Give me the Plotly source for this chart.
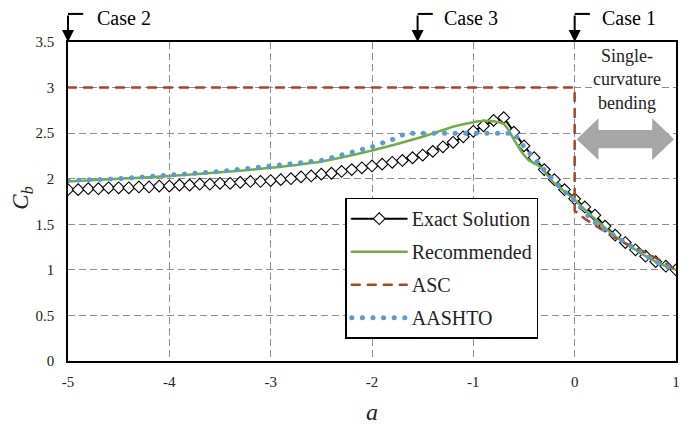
import plotly.graph_objects as go

# ---- data -------------------------------------------------------------
exact_x = [-5.0, -4.9, -4.8, -4.7, -4.6, -4.5, -4.4, -4.3, -4.2, -4.1,
           -4.0, -3.9, -3.8, -3.7, -3.6, -3.5, -3.4, -3.3, -3.2, -3.1,
           -3.0, -2.9, -2.8, -2.7, -2.6, -2.5, -2.4, -2.3, -2.2, -2.1,
           -2.0, -1.9, -1.8, -1.7, -1.6, -1.5, -1.4, -1.3, -1.2, -1.1,
           -1.0, -0.9, -0.8, -0.7, -0.6, -0.5, -0.4, -0.3, -0.2, -0.1,
           0.0, 0.1, 0.2, 0.3, 0.4, 0.5, 0.6, 0.7, 0.8, 0.9, 1.0]
exact_y = [1.88, 1.88, 1.89, 1.89, 1.90, 1.90, 1.90, 1.91, 1.91, 1.92,
           1.92, 1.93, 1.93, 1.94, 1.94, 1.95, 1.95, 1.96, 1.97, 1.97,
           1.98, 1.99, 2.00, 2.02, 2.03, 2.05, 2.06, 2.08, 2.10, 2.12,
           2.14, 2.16, 2.18, 2.20, 2.23, 2.26, 2.30, 2.35, 2.40, 2.46,
           2.52, 2.58, 2.64, 2.67, 2.51, 2.36, 2.23, 2.10, 1.99, 1.88,
           1.78, 1.69, 1.60, 1.48, 1.38, 1.30, 1.22, 1.15, 1.09, 1.04, 1.00]

rec_x = [-5.0, -4.5, -4.0, -3.5, -3.0, -2.5, -2.0, -1.5, -1.2, -1.0,
         -0.9, -0.8, -0.7, -0.65, -0.6, -0.55, -0.5, -0.45, -0.4, -0.35,
         -0.3, -0.2, -0.1, 0.0, 0.1, 0.2, 0.3, 0.4, 0.5, 0.6, 0.7, 0.8, 0.9, 1.0]
rec_y = [1.97, 2.00, 2.03, 2.07, 2.12, 2.19, 2.31, 2.46, 2.57, 2.62,
         2.635, 2.63, 2.60, 2.53, 2.43, 2.34, 2.26, 2.20, 2.17, 2.14,
         2.08, 1.95, 1.86, 1.77, 1.66, 1.56, 1.46, 1.37, 1.29, 1.22, 1.15, 1.09, 1.04, 1.00]

asc_x = [-5.0, 0.0, 0.0, 0.1, 0.2, 0.3, 0.4, 0.5, 0.6, 0.7, 0.8, 0.9, 1.0]
asc_y = [3.0, 3.0, 1.65, 1.56, 1.49, 1.42, 1.35, 1.29, 1.24, 1.19, 1.13, 1.07, 1.00]

aashto_x = [-5.0, -4.5, -4.0, -3.5, -3.0, -2.5, -2.4, -2.0, -1.8, -1.7, -1.6,
            -0.6, -0.5, -0.4, -0.3, -0.2, -0.1, 0.0, 0.1, 0.2, 0.3, 0.4,
            0.5, 0.6, 0.7, 0.8, 0.9, 1.0]
aashto_y = [1.98, 2.00, 2.04, 2.08, 2.14, 2.20, 2.23, 2.35, 2.43, 2.48, 2.50,
            2.50, 2.35, 2.22, 2.10, 1.97, 1.86, 1.76, 1.63, 1.52, 1.44, 1.37,
            1.30, 1.22, 1.15, 1.09, 1.04, 1.00]

x_ticks = [-5, -4, -3, -2, -1, 0, 1]
x_tick_labels = ["-5", "-4", "-3", "-2", "-1", "0", "1"]
y_ticks = [0, 0.5, 1, 1.5, 2, 2.5, 3, 3.5]
y_tick_labels = ["0", "0.5", "1", "1.5", "2", "2.5", "3", "3.5"]

# case markers along the top edge: (label, arrow position, label centre)
case_labels = ["Case 2", "Case 3", "Case 1"]
case_arrow_x = [-5.0, -1.55, 0.0]
case_text_x = [-4.45, -1.02, 0.54]

SERIF = "Times New Roman, Liberation Serif, serif"

fig = go.Figure()

fig.add_trace(go.Scatter(
    x=exact_x, y=exact_y, name="Exact Solution", mode="lines+markers",
    line=dict(color="black", width=2),
    marker=dict(symbol="diamond", size=9, color="white",
                line=dict(color="black", width=1.1)),
    legendgroup="g1"))

fig.add_trace(go.Scatter(
    x=rec_x, y=rec_y, name="Recommended", mode="lines",
    line=dict(color="#70AD47", width=2.5, shape="spline", smoothing=0.6),
    legendgroup="g2"))

fig.add_trace(go.Scatter(
    x=asc_x, y=asc_y, name="ASC", mode="lines",
    line=dict(color="#A8441F", width=2.5, dash="8px,8px"),
    legendgroup="g3"))

fig.add_trace(go.Scatter(
    x=aashto_x, y=aashto_y, name="AASHTO", mode="lines",
    line=dict(color="#5B9BD5", width=5, dash="0.1px,10.5px"),
    legendgroup="g4"))

axis_common = dict(
    showgrid=True, gridcolor="#8c8c8c", gridwidth=1.2, griddash="7px,4px",
    showline=True, linecolor="black", linewidth=1.5, mirror=True,
    zeroline=False, ticks="", tickfont=dict(family=SERIF, size=15, color="#222"),
)

fig.update_xaxes(range=[-5, 1], tickvals=x_ticks, ticktext=x_tick_labels,
                 ticklabelstandoff=6, **axis_common)
fig.update_yaxes(range=[0, 3.5], tickvals=y_ticks, ticktext=y_tick_labels,
                 ticklabelstandoff=9, **axis_common)

shapes = []
annotations = []

# bent "case" arrows and their labels above the plot
for label, xa, xt in zip(case_labels, case_arrow_x, case_text_x):
    shapes.append(dict(type="line", xref="x", yref="paper",
                       x0=xa, x1=xa + 0.15, y0=1.088, y1=1.088,
                       line=dict(color="black", width=2)))
    annotations.append(dict(x=xa, y=1.0, xref="x", yref="paper", text="",
                            showarrow=True, arrowhead=2, arrowsize=1.2,
                            arrowwidth=2, arrowcolor="black", ax=0, ay=-28,
                            standoff=0))
    annotations.append(dict(x=xt, y=1.075, xref="x", yref="paper", text=label,
                            xanchor="center", yanchor="middle", showarrow=False,
                            font=dict(family=SERIF, size=20, color="black")))

# grey double-headed arrow spanning the single-curvature range
yc, bh, hh = 2.434, 0.10, 0.23
shapes.append(dict(
    type="path", xref="x", yref="y", layer="above",
    path=(f"M 0.02,{yc} L 0.235,{yc + hh} L 0.235,{yc + bh} L 0.765,{yc + bh} "
          f"L 0.765,{yc + hh} L 0.98,{yc} L 0.765,{yc - hh} L 0.765,{yc - bh} "
          f"L 0.235,{yc - bh} L 0.235,{yc - hh} Z"),
    fillcolor="#a6a6a6", line=dict(width=0)))

annotations.append(dict(x=0.52, y=3.09, xref="x", yref="y",
                        xanchor="center", yanchor="middle",
                        text="Single-<br>curvature<br>bending", showarrow=False,
                        bgcolor="white", borderpad=0,
                        font=dict(family=SERIF, size=18, color="#222")))

# axis titles
annotations.append(dict(x=-0.075, y=0.51, xref="paper", yref="paper",
                        xanchor="center", yanchor="middle",
                        text="<i>C<sub>b</sub></i>", textangle=-90, showarrow=False,
                        font=dict(family=SERIF, size=23, color="#222")))
annotations.append(dict(x=0.5, y=-0.16, xref="paper", yref="paper",
                        xanchor="center", yanchor="middle",
                        text="<i>a</i>", showarrow=False,
                        font=dict(family=SERIF, size=24, color="#222")))

fig.update_layout(
    width=682, height=426,
    margin=dict(l=68, r=2, t=42, b=65),
    paper_bgcolor="white", plot_bgcolor="white",
    shapes=shapes, annotations=annotations,
    legend=dict(x=0.456, y=0.512, xanchor="left", yanchor="top",
                bgcolor="white", bordercolor="black", borderwidth=1.5,
                font=dict(family=SERIF, size=20, color="#222"),
                itemwidth=55, tracegroupgap=4, traceorder="grouped"),
    showlegend=True,
)

# round line caps so the dotted series renders as round dots
post = """
var gd = document.getElementById('{plot_id}');
gd.querySelectorAll('path.js-line').forEach(function(p){ p.style.strokeLinecap = 'round'; });
"""

fig.write_html("out.html", post_script=post)
